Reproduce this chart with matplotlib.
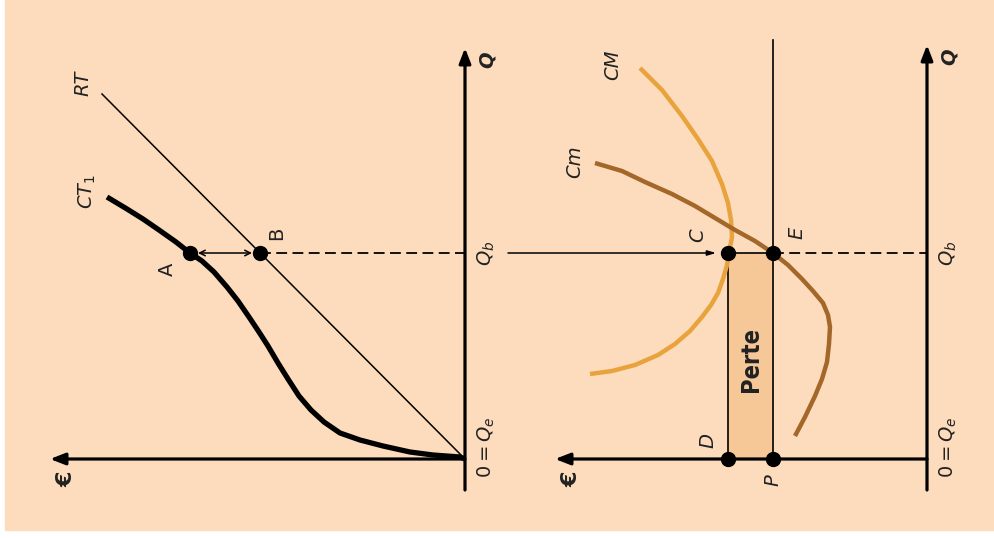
import matplotlib
matplotlib.use('Agg')
import numpy as np
from matplotlib import pyplot as plt
from matplotlib.patches import Rectangle

# values, economic units (Q up, euros to the left)
q_b = 206

# left panel: total revenue and total cost
rt_q = [0, 365]
rt_e = [0, 363]
ct_q = [0, 2, 4, 7, 13, 19, 26, 37, 49, 63, 80, 96, 113, 127, 142, 158,
        172, 187, 198, 206, 217, 229, 240, 250, 262]
ct_e = [0, 5, 32, 55, 82, 105, 125, 141, 154, 166, 177, 187, 197, 206, 216,
        227, 238, 251, 263, 275, 289, 306, 322, 338, 358]
point_a = 275
point_b = 205

# right panel: average cost CM and marginal cost Cm
cm_q = [391, 369, 343, 320, 298, 275, 256, 239, 222, 206, 194, 180, 166,
        154, 142, 128, 115, 104, 94, 88, 85]
cm_e = [287, 265, 245, 229, 215, 205, 199, 196, 195, 198, 200, 204, 209,
        216, 225, 237, 252, 269, 292, 315, 337]
cmg_q = [296, 288, 277, 265, 253, 241, 229, 218, 206, 194, 180, 168, 156,
         144, 132, 115, 97, 80, 63, 42, 23]
cmg_e = [332, 305, 282, 255, 232, 212, 192, 172, 154, 139, 125, 114, 104,
         99, 97, 98, 100, 105, 112, 122, 132]
price = 154
cm_at_qb = 199

bg = '#fcdcbd'
col_cm = '#e9a33c'
col_cmg = '#a4672a'
col_loss = '#f6c797'

fig = plt.figure(figsize=(9.95, 5.38), dpi=100)
fig.patch.set_facecolor('white')

ax1 = fig.add_axes([0, 0, 0.5, 1])
ax2 = fig.add_axes([0.5, 0, 0.5, 1])
ax1.set_xlim(465, -32.5)
ax2.set_xlim(429.5, -68)
for ax in (ax1, ax2):
    ax.set_ylim(-79, 459)
    ax.axis('off')

# peach background card, drawn in the left axes but spanning the figure
ax1.add_patch(Rectangle((5 / 995, 8 / 538), 990 / 995, 530 / 538,
                        transform=fig.transFigure, color=bg, zorder=-10,
                        clip_on=False))

axis_kw = dict(arrowprops=dict(arrowstyle='-|>,head_length=0.9,head_width=0.35',
                               lw=2.3, color='black', shrinkA=0, shrinkB=0),
               annotation_clip=False)
txt = dict(rotation=90, ha='center', va='center', fontsize=14,
           color='#222222')
itxt = dict(txt, style='italic')


def draw_axes(ax, q_top, e_left):
    ax.annotate('', xy=(0, q_top), xytext=(0, -31), **axis_kw)
    ax.annotate('', xy=(e_left, 0), xytext=(0, 0), **axis_kw)
    ax.text(-22, q_top - 12, 'Q', fontweight='bold', **itxt)
    ax.text(-21, 12, '$0=Q_e$', **txt)
    ax.text(-21, q_b, '$Q_b$', **txt)
    ax.text(e_left - 16, -20, '€', fontweight='bold',
            **dict(txt, fontsize=16))


# ---- left panel
draw_axes(ax1, 411, 415)
ax1.plot(rt_e, rt_q, color='black', lw=1.1)
ax1.plot(ct_e, ct_q, color='black', lw=3.8, solid_capstyle='butt',
         solid_joinstyle='round')
ax1.plot([point_b, 0], [q_b, q_b], color='black', lw=1.3, ls=(0, (6, 3)))
ax1.annotate('', xy=(point_a - 8, q_b), xytext=(point_b + 8, q_b),
             arrowprops=dict(arrowstyle='<->', lw=1.1, color='black',
                             shrinkA=0, shrinkB=0))
ax1.plot([point_a, point_b], [q_b, q_b], 'o', color='black', ms=10)
ax1.text(382, 376, 'RT', **itxt)
ax1.text(378, 267, '$CT_1$', **txt)
ax1.text(298, 190, 'A', **txt)
ax1.text(188, 226, 'B', **txt)

# ---- right panel
draw_axes(ax2, 414, 372)
ax2.add_patch(Rectangle((price, 0), cm_at_qb - price, q_b, color=col_loss, lw=0))
ax2.plot([price, price], [0, 419], color='black', lw=1.2)
ax2.plot([cm_at_qb, cm_at_qb], [0, q_b], color='black', lw=1.2)
ax2.plot(cm_e, cm_q, color=col_cm, lw=3.2, solid_capstyle='butt',
         solid_joinstyle='round')
ax2.plot(cmg_e, cmg_q, color=col_cmg, lw=3.2, solid_capstyle='butt',
         solid_joinstyle='round')
ax2.plot([cm_at_qb, price], [q_b, q_b], color='black', lw=1.2)
ax2.plot([price, 0], [q_b, q_b], color='black', lw=1.3, ls=(0, (6, 3)))
ax2.annotate('', xy=(cm_at_qb + 12, q_b), xytext=(419, q_b),
             arrowprops=dict(arrowstyle='-|>,head_length=0.5,head_width=0.15',
                             lw=1.1, color='black', shrinkA=0, shrinkB=0),
             annotation_clip=False)
ax2.plot([cm_at_qb, price, cm_at_qb, price], [q_b, q_b, 0, 0], 'o',
         color='black', ms=10, zorder=5)
ax2.text(314, 394, 'CM', **itxt)
ax2.text(352, 297, 'Cm', **itxt)
ax2.text(229, 224, 'C', **itxt)
ax2.text(130, 226, 'E', **itxt)
ax2.text(219, 19, 'D', **itxt)
ax2.text(154, -21, 'P', **itxt)
ax2.text((price + cm_at_qb) / 2, 100, 'Perte', rotation=90, ha='center',
         va='center', fontsize=17, fontweight='semibold', color='#222222',
         fontstretch='condensed')

fig.savefig('out.png', dpi=100)
